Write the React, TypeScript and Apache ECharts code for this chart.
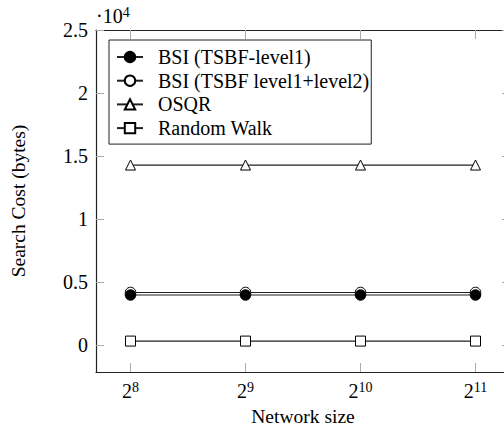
import React, { useEffect, useRef } from "react";
import * as echarts from "echarts";

const networkExponents = [8, 9, 10, 11];
const bsiLevel1 = [4000, 4000, 4000, 4000];
const bsiLevel12 = [4200, 4200, 4200, 4200];
const osqr = [14300, 14300, 14300, 14300];
const randomWalk = [350, 350, 350, 350];
const yTicks = [0, 5000, 10000, 15000, 20000, 25000];

const FONT = "'Liberation Serif', 'Times New Roman', serif";

export default function App() {
  const ref = useRef<HTMLDivElement>(null);
  useEffect(() => {
    const chart = echarts.init(ref.current!, null, { renderer: "svg" });
    const pts = (vals: number[]) => networkExponents.map((e, i) => [e, vals[i]]);
    const lineStyle = { color: "#222", width: 1.2 };
    const tickStyle = { color: "#aaa", width: 1 };
    const axisLineStyle = { color: "#222", width: 1.2 };
    const supStyle = { fontSize: 14, fontFamily: FONT, color: "#000", verticalAlign: "top", padding: [0, 0, 8, 0] };
    const xCommon = {
      type: "value" as const,
      min: 7.7,
      max: 11.3,
      splitLine: { show: false },
    };
    const yCommon = {
      type: "value" as const,
      min: -2100,
      max: 25000,
      splitLine: { show: false },
    };
    chart.setOption({
      animation: false,
      backgroundColor: "#fff",
      textStyle: { fontFamily: FONT },
      grid: { left: 96, top: 30, right: 10, bottom: 58.5 },
      legend: {
        orient: "vertical",
        left: 109,
        top: 40,
        itemWidth: 26,
        itemHeight: 13,
        itemGap: 3.7,
        padding: [7, 2, 6, 7],
        borderColor: "#222",
        borderWidth: 1,
        backgroundColor: "#fff",
        textStyle: { fontFamily: FONT, fontSize: 20, color: "#000", padding: [0, 0, 0, 10] },
        data: ["BSI (TSBF-level1)", "BSI (TSBF level1+level2)", "OSQR", "Random Walk"],
      },
      xAxis: [
        {
          ...xCommon,
          position: "bottom",
          name: "Network size",
          nameLocation: "middle",
          nameGap: 34,
          nameTextStyle: { fontFamily: FONT, fontSize: 19.5, color: "#000" },
          axisLine: { onZero: false, lineStyle: axisLineStyle },
          axisTick: { inside: true, length: 9, lineStyle: tickStyle, customValues: networkExponents },
          axisLabel: {
            customValues: networkExponents,
            margin: 8,
            color: "#000",
            fontFamily: FONT,
            formatter: (v: number) => `{b|2}{s|${v}}`,
            rich: {
              b: { fontSize: 20, fontFamily: FONT, color: "#000" },
              s: supStyle,
            },
          },
        },
        {
          ...xCommon,
          position: "top",
          axisLine: { onZero: false, lineStyle: axisLineStyle },
          axisTick: { inside: true, length: 9, lineStyle: tickStyle, customValues: networkExponents },
          axisLabel: { show: false },
        },
      ],
      yAxis: [
        {
          ...yCommon,
          position: "left",
          name: "Search Cost (bytes)",
          nameLocation: "middle",
          nameGap: 68,
          nameTextStyle: { fontFamily: FONT, fontSize: 19.5, color: "#000" },
          axisLine: { show: true, onZero: false, lineStyle: axisLineStyle },
          axisTick: { show: true, inside: true, length: 8, lineStyle: tickStyle, customValues: yTicks },
          axisLabel: {
            customValues: yTicks,
            margin: 8,
            color: "#000",
            fontFamily: FONT,
            fontSize: 20,
            formatter: (v: number) => String(v / 10000),
          },
        },
        {
          ...yCommon,
          position: "right",
          axisLine: { show: true, onZero: false, lineStyle: axisLineStyle },
          axisTick: { show: true, inside: true, length: 8, lineStyle: tickStyle, customValues: yTicks },
          axisLabel: { show: false },
        },
        {
          ...yCommon,
          position: "left",
          name: "·10{s|4}",
          nameLocation: "end",
          nameGap: 3,
          nameTextStyle: {
            fontFamily: FONT,
            fontSize: 20,
            color: "#000",
            align: "left",
            rich: { s: supStyle },
          },
          axisLine: { show: false },
          axisTick: { show: false },
          axisLabel: { show: false },
        },
      ],
      series: [
        {
          name: "BSI (TSBF-level1)",
          type: "line",
          data: pts(bsiLevel1),
          symbol: "circle",
          symbolSize: 10.5,
          z: 5,
          lineStyle,
          itemStyle: { color: "#000", borderColor: "#000", borderWidth: 1 },
        },
        {
          name: "BSI (TSBF level1+level2)",
          type: "line",
          data: pts(bsiLevel12),
          symbol: "circle",
          symbolSize: 10.5,
          z: 3,
          lineStyle,
          itemStyle: { color: "#fff", borderColor: "#000", borderWidth: 1 },
        },
        {
          name: "OSQR",
          type: "line",
          data: pts(osqr),
          symbol: "triangle",
          symbolSize: 10,
          lineStyle,
          itemStyle: { color: "#fff", borderColor: "#000", borderWidth: 1 },
        },
        {
          name: "Random Walk",
          type: "line",
          data: pts(randomWalk),
          symbol: "rect",
          symbolSize: 10,
          lineStyle,
          itemStyle: { color: "#fff", borderColor: "#000", borderWidth: 1 },
        },
      ],
    });
    return () => chart.dispose();
  }, []);
  return (
    <div style={{ position: "absolute", left: 0, top: 0, width: 504, height: 431, overflow: "hidden" }}>
      <div ref={ref} style={{ width: 520, height: 431 }} />
    </div>
  );
}
